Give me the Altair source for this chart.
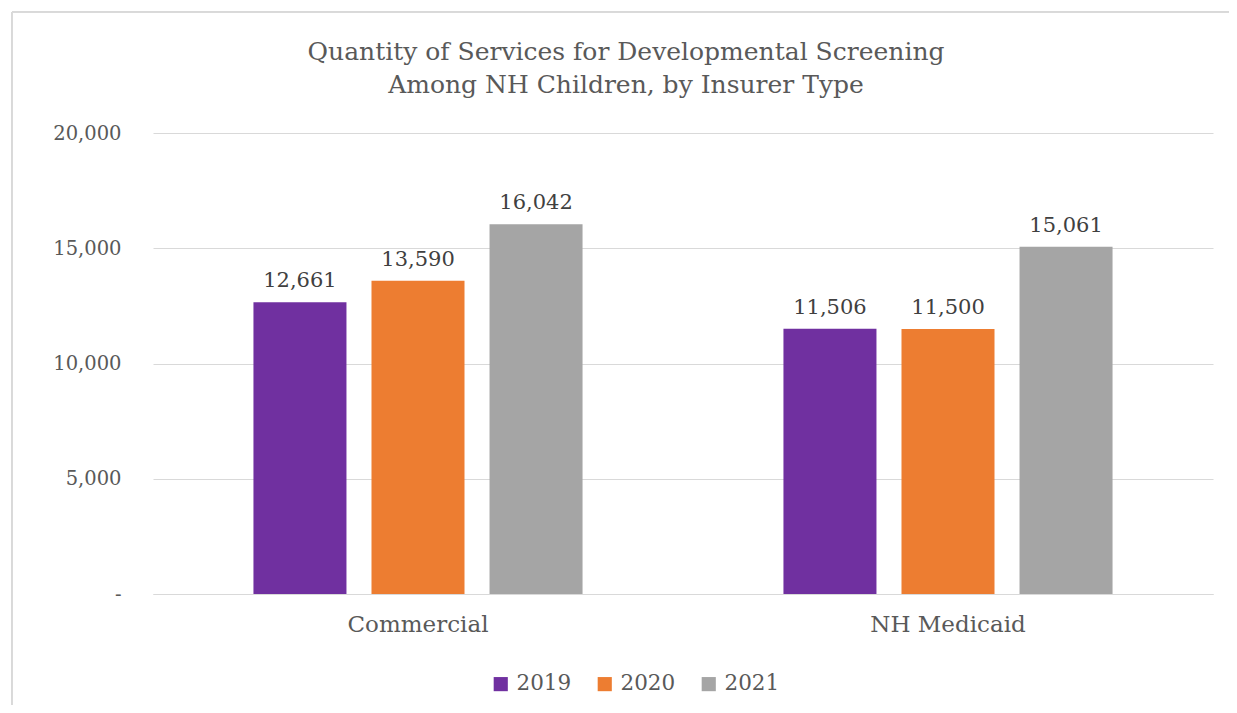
import altair as alt
import pandas as pd

categories = ["Commercial", "NH Medicaid"]
years = ["2019", "2020", "2021"]
commercial = [12661, 13590, 16042]
medicaid = [11506, 11500, 15061]
colors = ["#7030A0", "#ED7D31", "#A5A5A5"]

rows = []
for cat, vals in zip(categories, [commercial, medicaid]):
    for y, v in zip(years, vals):
        rows.append({"Insurer": cat, "Year": y, "Value": v})
df = pd.DataFrame(rows)

FONT = "DejaVu Serif"

base = alt.Chart(df).encode(
    x=alt.X("Insurer:N", sort=categories,
            scale=alt.Scale(paddingInner=0, paddingOuter=0),
            axis=alt.Axis(title=None, labelAngle=0, ticks=False, domain=True,
                          domainColor="#d9d9d9", labelPadding=19, labelFontSize=23,
                          labelColor="#595959", labelFont=FONT)),
    xOffset=alt.XOffset("Year:N", sort=years,
                        scale=alt.Scale(paddingInner=0.212, paddingOuter=0.851)),
)

bars = base.mark_bar().encode(
    y=alt.Y("Value:Q", scale=alt.Scale(domain=[0, 20000]),
            axis=alt.Axis(title=None, values=[0, 5000, 10000, 15000, 20000],
                          labelExpr="datum.value == 0 ? '-\u00a0\u00a0' : format(datum.value, ',')",
                          ticks=False, domain=False, gridColor="#d9d9d9",
                          labelPadding=32, labelFontSize=19.5, labelColor="#595959",
                          labelFont=FONT)),
    color=alt.Color("Year:N", sort=years,
                    scale=alt.Scale(domain=years, range=colors),
                    legend=alt.Legend(title=None, orient="none", direction="horizontal",
                                      legendX=337, legendY=540, symbolType="square",
                                      symbolSize=200, symbolStrokeWidth=0,
                                      labelFontSize=21.5, labelColor="#595959",
                                      labelFont=FONT, columnPadding=22,
                                      labelOffset=5, symbolOpacity=1)),
)

labels = base.mark_text(baseline="bottom", dy=-11, fontSize=21, color="#404040",
                        font=FONT).encode(
    y=alt.Y("Value:Q"),
    text=alt.Text("Value:Q", format=","),
)

border_top = alt.Chart(df).mark_rule(color="#d9d9d9", strokeWidth=1).encode(
    x=alt.value(-141), x2=alt.value(1200), y=alt.value(-121))
border_left = alt.Chart(df).mark_rule(color="#d9d9d9", strokeWidth=1).encode(
    x=alt.value(-141), y=alt.value(-121), y2=alt.value(700))

chart = alt.layer(border_top, border_left, bars, labels).properties(
    width=1060, height=461,
    padding={"left": 145, "top": 125, "right": 16, "bottom": 111},
    autosize=alt.AutoSizeParams(type="none"),
    title=alt.Title(["Quantity of Services for Developmental Screening",
                     "Among NH Children, by Insurer Type"],
                    font=FONT, fontSize=25, fontWeight="normal", color="#595959",
                    anchor="middle", dx=-57, offset=0, dy=86, lineHeight=33),
).configure_view(stroke=None)

chart.save("out.html", embed_options={"renderer": "svg", "actions": False})
